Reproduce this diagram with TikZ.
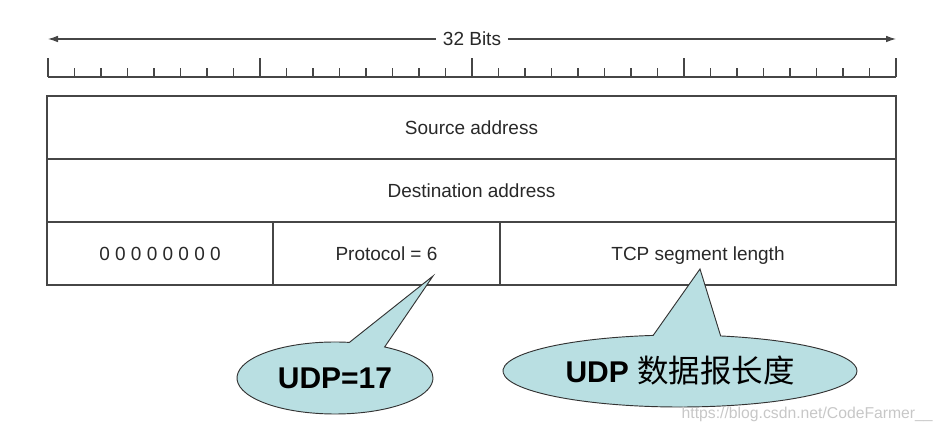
\documentclass[tikz,border=0pt]{standalone}
\usepackage{fontspec}
\setmainfont{Liberation Sans}
\newfontfamily\cjk{Noto Sans CJK SC}
\usetikzlibrary{shapes.callouts,arrows.meta}
\definecolor{callfill}{RGB}{185,223,226}
\definecolor{linec}{RGB}{70,70,70}
\definecolor{txtc}{RGB}{40,40,40}
\begin{document}
\begin{tikzpicture}[x=0.75pt,y=-0.75pt,
  cell/.style={draw=linec, line width=0.9pt, rectangle, anchor=north west,
    inner sep=0pt, outer sep=0pt, minimum height=47.25pt,
    text height=11pt, text depth=1pt,
    font=\fontsize{14.25}{17}\selectfont, text=txtc},
  bubble/.style={ellipse callout, draw=black!80, line width=0.7pt, fill=callfill,
    inner sep=0pt, callout pointer arc=22, minimum height=54pt,
    font=\fontsize{22.5}{26}\selectfont\bfseries, text=black},
  tick/.style={draw=linec, line width=0.8pt},
  lbl/.style={font=\fontsize{14.25}{17}\selectfont, text=txtc}]
\useasboundingbox (0,0) rectangle (943,434);

% width arrow
\node[lbl, fill=white, inner xsep=5pt, inner ysep=1pt] (bits) at (472,39) {32 Bits};
\coordinate (al) at (48,39);
\coordinate (ar) at (896,39);
\draw[linec, line width=0.8pt, -{Latex[length=7.5pt,width=5pt]}] (bits.west) -- (al);
\draw[linec, line width=0.8pt, -{Latex[length=7.5pt,width=5pt]}] (bits.east) -- (ar);

% ruler
\draw[tick] (48,77) -- (896,77);
\foreach \i in {0,...,32}{
  \pgfmathsetmacro\ttop{mod(\i,8)==0 ? 58 : 68}
  \draw[tick] (48+26.5*\i,77) -- (48+26.5*\i,\ttop);
}

% header table
\node[cell, minimum width=636.75pt] (src) at (47,96) {Source address};
\node[cell, minimum width=636.75pt] (dst) at (47,159) {Destination address};
\node[cell, minimum width=169.5pt] (zero) at (47,222) {0 0 0 0 0 0 0 0};
\node[cell, minimum width=170.25pt] (proto) at (273,222) {Protocol = 6};
\node[cell, minimum width=297pt] (len) at (500,222) {TCP segment length};

% callouts
\node[bubble, minimum width=147pt, callout absolute pointer={(433,276)}] (udp) at (335,378) {UDP=17};
\node[bubble, minimum width=265.5pt, callout absolute pointer={(700,269)}] (udplen) at (680,371)
  {UDP {\fontsize{23.6}{26}\selectfont\mdseries\cjk 数据报长度}};

% watermark
\node[text=black!22, font=\fontsize{11.8}{14}\selectfont, anchor=east, inner sep=0pt] (wm) at (933,414) {https://blog.csdn.net/CodeFarmer\_\_};
\end{tikzpicture}
\end{document}
